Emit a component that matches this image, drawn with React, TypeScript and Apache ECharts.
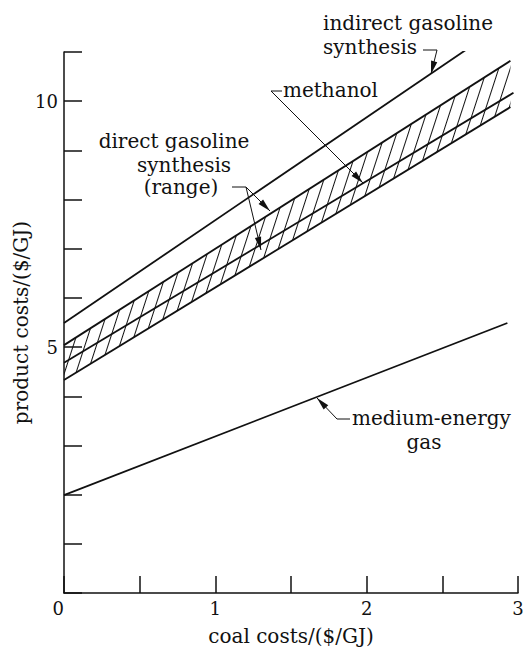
import React, { useEffect, useRef } from 'react';
import * as echarts from 'echarts';

// ---- data ----
const indirectX = [0, 2.75];
const indirectY = [5.49, 11.24];
const bandX = [0, 2.95];
const directUpper = [5.04, 10.82];
const directLower = [4.33, 9.88];
const methanolX = [0, 2.97];
const methanolY = [4.68, 10.17];
const gasX = [0, 2.93];
const gasY = [1.99, 5.49];
const xTickLabels = [0, 1, 2, 3];
const yTickLabels = [5, 10];

const FONT = 'DejaVu Serif';
const INK = '#111';

function pairs(xs: number[], ys: number[]) {
  return xs.map((x, i) => [x, ys[i]]);
}

function arrowHead(tip: number[], from: number[], len = 13, half = 3.2) {
  const dx = tip[0] - from[0];
  const dy = tip[1] - from[1];
  const d = Math.hypot(dx, dy);
  const ux = dx / d;
  const uy = dy / d;
  const bx = tip[0] - ux * len;
  const by = tip[1] - uy * len;
  return {
    type: 'polygon',
    silent: true,
    z: 10,
    shape: { points: [tip, [bx - uy * half, by + ux * half], [bx + uy * half, by - ux * half]] },
    style: { fill: INK },
  };
}

function leader(points: number[][]) {
  return {
    type: 'polyline',
    silent: true,
    z: 10,
    shape: { points },
    style: { stroke: INK, lineWidth: 1, fill: 'none' },
  };
}

function label(text: string, x: number, y: number, align: string) {
  return {
    type: 'text',
    silent: true,
    z: 10,
    x,
    y,
    style: { text, fill: INK, fontFamily: FONT, fontSize: 20, align, verticalAlign: 'middle' },
  };
}

export default function App() {
  const ref = useRef<HTMLDivElement>(null);
  useEffect(() => {
    if (!ref.current) return;
    const chart = echarts.init(ref.current, undefined, { renderer: 'svg' });
    const lineStyle = { color: INK, width: 1.8 };
    chart.setOption({
      animation: false,
      backgroundColor: '#fff',
      textStyle: { fontFamily: FONT },
      grid: { left: 64, right: 13, top: 52, bottom: 59 },
      xAxis: {
        type: 'value',
        min: 0,
        max: 3,
        interval: 0.5,
        name: 'coal costs/($/GJ)',
        nameLocation: 'middle',
        nameGap: 33,
        nameMoveOverlap: false,
        nameTextStyle: { fontFamily: FONT, fontSize: 20, color: INK },
        splitLine: { show: false },
        axisLine: { lineStyle: { color: INK, width: 1.5 } },
        axisTick: { inside: true, length: 17, lineStyle: { color: INK, width: 1.5 } },
        axisLabel: {
          margin: 6,
          fontFamily: FONT,
          fontSize: 18,
          color: INK,
          alignMinLabel: 'right',
          formatter: (v: number) => (xTickLabels.includes(v) ? String(v) : ''),
        },
      },
      yAxis: {
        type: 'value',
        min: 0,
        max: 11,
        interval: 1,
        name: 'product costs/($/GJ)',
        nameLocation: 'middle',
        nameGap: 33,
        nameMoveOverlap: false,
        nameTextStyle: { fontFamily: FONT, fontSize: 20, color: INK },
        splitLine: { show: false },
        axisLine: { lineStyle: { color: INK, width: 1.5 } },
        axisTick: { inside: true, length: 18, lineStyle: { color: INK, width: 1.5 } },
        axisLabel: {
          margin: 6,
          fontFamily: FONT,
          fontSize: 18,
          color: INK,
          formatter: (v: number) => (yTickLabels.includes(v) ? String(v) : ''),
        },
      },
      series: [
        {
          name: 'direct gasoline synthesis (lower)',
          type: 'line',
          stack: 'band',
          symbol: 'none',
          lineStyle,
          encode: { x: 1, y: 0 },
          data: bandX.map((x, i) => [directLower[i], x]),
        },
        {
          name: 'direct gasoline synthesis (range)',
          type: 'line',
          stack: 'band',
          symbol: 'none',
          lineStyle,
          encode: { x: 1, y: 0 },
          itemStyle: {
            color: INK,
            decal: {
              symbol: 'rect',
              symbolSize: 1,
              color: INK,
              backgroundColor: null,
              dashArrayX: [1, 0],
              dashArrayY: [1, 10],
              rotation: (-72 * Math.PI) / 180,
            },
          },
          areaStyle: { color: 'rgba(0,0,0,0)', opacity: 1 },
          data: bandX.map((x, i) => [directUpper[i] - directLower[i], x]),
        },
        {
          name: 'methanol',
          type: 'line',
          symbol: 'none',
          lineStyle,
          data: pairs(methanolX, methanolY),
        },
        {
          name: 'indirect gasoline synthesis',
          type: 'line',
          symbol: 'none',
          lineStyle,
          data: pairs(indirectX, indirectY),
        },
        {
          name: 'medium-energy gas',
          type: 'line',
          symbol: 'none',
          lineStyle,
          data: pairs(gasX, gasY),
        },
      ],
      graphic: [
        // indirect gasoline synthesis
        label('indirect gasoline', 323, 23, 'left'),
        label('synthesis', 323, 47, 'left'),
        leader([[423, 50], [437, 50], [431, 74]]),
        arrowHead([431, 74], [437, 50]),
        // methanol
        label('methanol', 283, 90, 'left'),
        leader([[282, 91], [271, 91], [363, 183]]),
        arrowHead([363, 183], [271, 91]),
        // direct gasoline synthesis (range)
        label('direct gasoline', 174, 141, 'center'),
        label('synthesis', 184, 165, 'center'),
        label('(range)', 181, 187, 'center'),
        leader([[232, 187], [246, 187], [270, 211]]),
        leader([[246, 187], [261, 250]]),
        arrowHead([270, 211], [246, 187]),
        arrowHead([261, 250], [246, 187]),
        // medium-energy gas
        label('medium-energy', 352, 418, 'left'),
        label('gas', 424, 442, 'center'),
        leader([[350, 419], [337, 419], [317, 398]]),
        arrowHead([317, 398], [337, 419]),
      ],
    });
    return () => chart.dispose();
  }, []);
  return (
    <div
      ref={ref}
      style={{ position: 'absolute', left: 0, top: 0, width: 531, height: 652 }}
    />
  );
}
